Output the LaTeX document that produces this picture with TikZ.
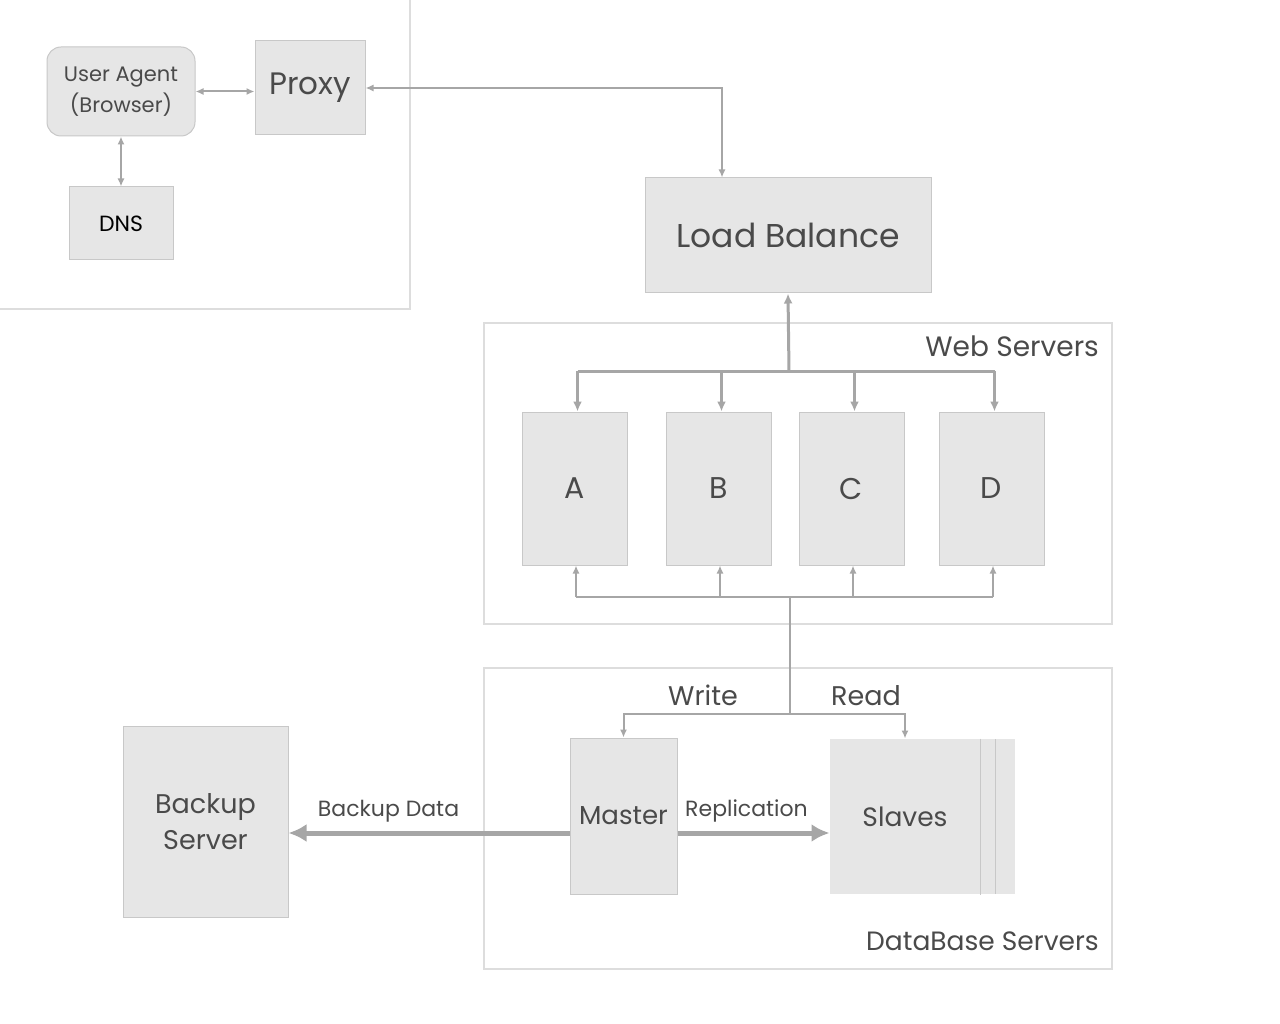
\documentclass[tikz,border=0pt]{standalone}
\usepackage{fontspec}
\setmainfont{Poppins}
\usetikzlibrary{arrows.meta}
\definecolor{boxfill}{HTML}{E6E6E6}
\definecolor{boxline}{HTML}{C8C8C8}
\definecolor{lnkgray}{HTML}{A6A6A6}
\definecolor{grpline}{HTML}{DDDDDD}
\definecolor{txtgray}{HTML}{4A4A4A}
\newcommand{\pxf}[1]{\fontsize{#1}{#1}\selectfont}
\begin{document}
\begin{tikzpicture}[x=1pt, y=-1pt, every node/.style={text=txtgray, align=center, inner sep=0pt},
  srv/.style={fill=boxfill, draw=boxline, line width=1pt, minimum width=#1},
  srv/.default=105pt,
  grp/.style={draw=grpline, line width=2pt},
  lnk/.style={draw=lnkgray, line width=2pt, {Latex[length=8pt,width=7pt]}-{Latex[length=8pt,width=7pt]}},
  lnkto/.style={draw=lnkgray, line width=2pt, -{Latex[length=8pt,width=7pt]}},
  bus/.style={draw=lnkgray, line width=3pt, -{Latex[length=10pt,width=9pt]}},
  fat/.style={draw=lnkgray, line width=5pt, -{Latex[length=18pt,width=18pt]}}]
\useasboundingbox[fill=white] (0,0) rectangle (1280,1024);
% client side
\draw[grp] (410,0) -- (410,309) -- (0,309);
\node[srv=148pt, minimum height=89pt, rounded corners=14pt, font=\pxf{21}] (ua) at (121,91.5) {User Agent\\[4pt](Browser)};
\node[srv=110pt, minimum height=94pt, font=\pxf{31}] (px) at (310,88) {Proxy};
\node[srv=104pt, minimum height=73pt, font=\pxf{22}, text=black] (dns) at (121,223.5) {DNS};
\draw[lnk] (ua.east) -- (ua.east -| px.west);
\draw[lnk] (ua.south) -- (dns.north);
\node[srv=286pt, minimum height=115pt, font=\pxf{33}] (lb) at (788,235.5) {Load Balance};
\draw[lnk] (px.east) -| ([xshift=-66pt]lb.north);
% web servers
\draw[grp] (484,323) rectangle (1112,624);
\node[anchor=east, font=\pxf{28}] (wslbl) at (1099,346) {Web Servers};
\foreach \n/\x in {A/574.5, B/718.5, C/851.5, D/991.5}
  \node[srv, minimum height=153pt, font=\pxf{30}] (\n) at (\x,488.5) {\n};
\coordinate (top) at (789,371);
\coordinate (bot) at (790,597);
\draw[bus] (top) -- (lb.south);
\draw[draw=lnkgray, line width=3pt] ([xshift=3pt]A.north |- top) -- ([xshift=3pt]D.north |- top);
\foreach \n in {A,B,C,D}
  \draw[bus] ([xshift=3pt]\n.north |- top) -- ([xshift=3pt]\n.north);
\draw[draw=lnkgray, line width=2pt] ([xshift=1.5pt]A.south |- bot) -- ([xshift=1.5pt]D.south |- bot);
\foreach \n in {A,B,C,D}
  \draw[lnkto] ([xshift=1.5pt]\n.south |- bot) -- ([xshift=1.5pt]\n.south);
% database servers
\draw[grp] (484,668) rectangle (1112,969);
\node[anchor=east, font=\pxf{26.5}] (dblbl) at (1099,941) {DataBase Servers};
\node[srv=107pt, minimum height=156pt, font=\pxf{26}] (ms) at (623.5,816) {Master};
\fill[boxfill] (980,739) rectangle (1015,894);
\draw[boxline, line width=1pt] (980,739) -- (980,894) (995,739) -- (995,894);
\node[srv=150pt, draw=none, minimum height=155pt, font=\pxf{26.5}] (slv) at (905,816.5) {Slaves};
\draw[boxline, line width=1pt] (slv.north east) -- (slv.south east);
\coordinate (db) at (790,714);
\draw[draw=lnkgray, line width=2pt] (bot) -- (db);
\draw[lnkto] (db) -| (ms.north);
\draw[lnkto] (db) -| (slv.north);
\node[font=\pxf{27}] (wr) at (703,695) {Write};
\node[font=\pxf{27}] (rd) at (866,696) {Read};
\node[srv=165pt, minimum height=191pt, font=\pxf{27}] (bk) at (205.5,821.5) {Backup\\[9pt]Server};
\draw[fat] ([yshift=-17pt]ms.east) -- ([yshift=-17pt]ms.east -| slv.west)
  node[midway, above=8pt, xshift=-7pt, font=\pxf{22}] {Replication};
\draw[fat] ([yshift=-17pt]ms.west) -- ([yshift=-17pt]ms.west -| bk.east)
  node[pos=0.644, above=8pt, font=\pxf{22}] {Backup Data};
\end{tikzpicture}
\end{document}
